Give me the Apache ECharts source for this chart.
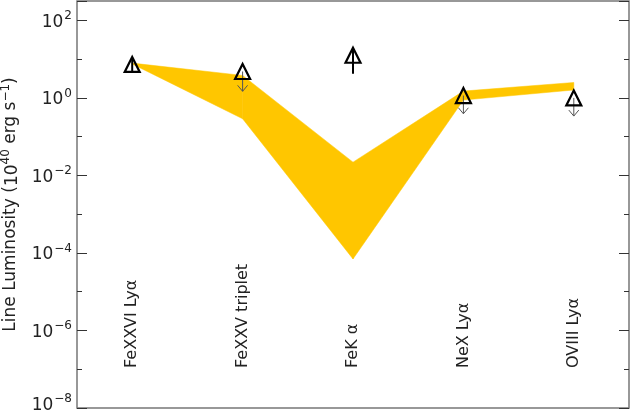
<!DOCTYPE html>
<html>
<head>
<meta charset="utf-8">
<script src="https://cdn.jsdelivr.net/npm/echarts@6/dist/echarts.min.js"></script>
<style>
  html, body { margin: 0; padding: 0; background: #fff; }
  #main { width: 631px; height: 410px; }
</style>
</head>
<body>
<div id="main"></div>
<script>
var categories = ['FeXXVI Ly\u03b1', 'FeXXV triplet', 'FeK \u03b1', 'NeX Ly\u03b1', 'OVIII Ly\u03b1'];
// model band (lower / upper), 10^40 erg/s
var bandLow = [7.5, 0.29, 7e-5, 0.88, 1.6];
var bandHigh = [7.9, 3.8, 0.022, 1.5, 2.5];
// measured points (triangles)
var points = [7.3, 4.8, 12.6, 1.15, 1.0];
// vertical bars through some points
var barLow = [4.6, null, 4.2, null, null];
var barHigh = [11, null, 20, null, null];
// upper-limit arrows: tip value
var limitTip = [null, 1.48, null, 0.39, 0.34];

var FONT = 'DejaVu Sans';
var myChart = echarts.init(document.getElementById('main'));

function expLabel(v) {
    var e = Math.round(Math.log10(v));
    if (Math.abs(Math.log10(v) - e) > 1e-6 || e % 2 !== 0) return '';
    var s = String(e).replace('-', '\u2212');
    // lowest label sits a bit higher so it stays inside the frame
    if (e === -8) return '{bl|10}{el|' + s + '}';
    return '{b|10}{e|' + s + '}';
}

var yBase = {
    type: 'log',
    logBase: 10,
    min: 1e-8,
    max: Math.pow(10, 2.5),
    splitLine: { show: false },
    axisLine: { show: false }
};

function yAxisOf(pos, interval, tickLen, withLabel) {
    return Object.assign({}, yBase, {
        position: pos,
        interval: interval,
        axisTick: { show: true, inside: true, length: tickLen, lineStyle: { color: '#333', width: 1 } },
        axisLabel: withLabel ? {
            formatter: expLabel,
            margin: 5,
            color: '#222',
            rich: {
                b: { fontFamily: FONT, fontSize: 17, color: '#222', verticalAlign: 'bottom' },
                e: { fontFamily: FONT, fontSize: 12, color: '#222', verticalAlign: 'bottom', padding: [0, 0, 9, 1] },
                bl: { fontFamily: FONT, fontSize: 17, color: '#222', verticalAlign: 'bottom', padding: [0, 0, 9, 0] },
                el: { fontFamily: FONT, fontSize: 12, color: '#222', verticalAlign: 'bottom', padding: [0, 0, 18, 1] }
            }
        } : { show: false },
        name: withLabel ? 'Line Luminosity ({n|10}{s|40} erg s{s|\u22121})' : '',
        nameLocation: 'middle',
        nameGap: 56,
        nameRotate: 90,
        nameTextStyle: {
            fontFamily: FONT, fontSize: 17, color: '#222',
            rich: {
                n: { fontFamily: FONT, fontSize: 17, color: '#222', verticalAlign: 'bottom' },
                s: { fontFamily: FONT, fontSize: 12, color: '#222', verticalAlign: 'bottom', padding: [0, 0, 9, 0] }
            }
        }
    });
}

var option = {
    animation: false,
    backgroundColor: '#fff',
    grid: {
        left: 77, right: 2, top: 1, bottom: 2,
        containLabel: false, outerBoundsMode: 'none',
        show: true, borderColor: '#777', borderWidth: 1.5
    },
    xAxis: {
        type: 'category',
        data: categories,
        boundaryGap: true,
        axisTick: { show: false },
        axisLine: { show: false },
        axisLabel: {
            inside: true,
            rotate: 90,
            margin: 40,
            fontFamily: FONT,
            fontSize: 16,
            color: '#222'
        }
    },
    yAxis: [
        yAxisOf('left', 2, 10, true),
        yAxisOf('left', 1, 5, false),
        yAxisOf('right', 2, 10, false),
        yAxisOf('right', 1, 5, false)
    ],
    series: [
        {
            type: 'custom',
            name: 'band',
            yAxisIndex: 0,
            data: categories.map(function (c, i) { return [i, bandLow[i], bandHigh[i]]; }),
            renderItem: function (params, api) {
                var i = params.dataIndex;
                if (i >= categories.length - 1) return;
                var a = api.coord([i, bandHigh[i]]);
                var b = api.coord([i + 1, bandHigh[i + 1]]);
                var c = api.coord([i + 1, bandLow[i + 1]]);
                var d = api.coord([i, bandLow[i]]);
                return {
                    type: 'polygon',
                    shape: { points: [a, b, c, d] },
                    style: { fill: '#FFC600', stroke: '#FFC600', lineWidth: 0.5 }
                };
            },
            z: 1
        },
        {
            type: 'custom',
            name: 'limits',
            yAxisIndex: 0,
            data: categories.map(function (c, i) { return [i, points[i], limitTip[i]]; }),
            renderItem: function (params, api) {
                var i = params.dataIndex;
                if (limitTip[i] == null) return;
                var p = api.coord([i, points[i]]);
                var t = api.coord([i, limitTip[i]]);
                return {
                    type: 'group',
                    children: [
                        { type: 'line', shape: { x1: p[0], y1: p[1], x2: t[0], y2: t[1] },
                          style: { stroke: '#555', lineWidth: 1 } },
                        { type: 'polyline', shape: { points: [[t[0] - 5, t[1] - 6], t, [t[0] + 5, t[1] - 6]] },
                          style: { stroke: '#555', lineWidth: 1, fill: null } }
                    ]
                };
            },
            z: 3
        },
        {
            type: 'custom',
            name: 'bars',
            yAxisIndex: 0,
            data: categories.map(function (c, i) { return [i, barLow[i], barHigh[i]]; }),
            renderItem: function (params, api) {
                var i = params.dataIndex;
                if (barLow[i] == null) return;
                var lo = api.coord([i, barLow[i]]);
                var hi = api.coord([i, barHigh[i]]);
                return {
                    type: 'line',
                    shape: { x1: lo[0], y1: lo[1], x2: hi[0], y2: hi[1] },
                    style: { stroke: '#000', lineWidth: 2 }
                };
            },
            z: 4
        },
        {
            type: 'scatter',
            name: 'points',
            yAxisIndex: 0,
            data: points,
            symbol: 'triangle',
            symbolSize: 15,
            itemStyle: { color: 'rgba(0,0,0,0)', borderColor: '#000', borderWidth: 2.2, opacity: 1 },
            z: 5
        }
    ]
};

myChart.setOption(option);
</script>
</body>
</html>
